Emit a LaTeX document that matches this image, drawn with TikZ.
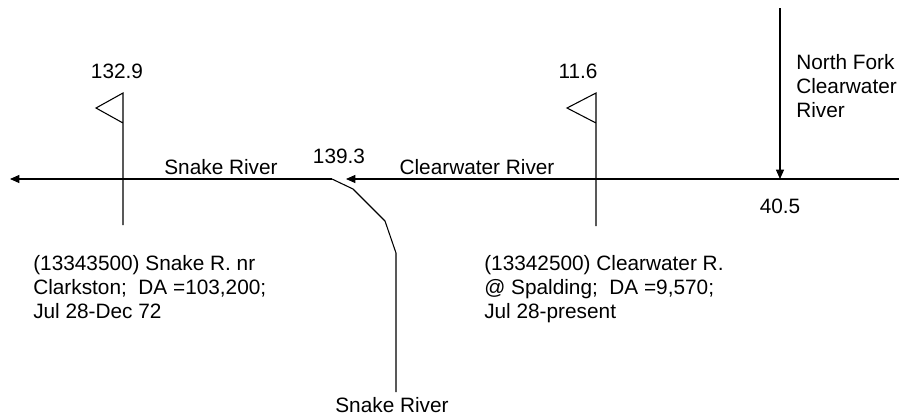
\documentclass[tikz,border=0pt]{standalone}
\usepackage{fontspec}
\setmainfont{Liberation Sans}
\usetikzlibrary{arrows.meta,positioning}
\definecolor{ink}{HTML}{000000}

\begin{document}
\begin{tikzpicture}[
  x=0.75pt, y=-0.75pt,
  >={Triangle[length=7pt,width=6pt]},
  river/.style={draw=ink, line width=0.8pt},
  flow/.style={->, draw=ink, line width=0.8pt},
  lbl/.style={inner sep=0pt, anchor=base, font=\fontsize{15.6}{18}\selectfont},
  note/.style={inner sep=0pt, anchor=base west, align=left, font=\fontsize{15.6}{18}\selectfont},
]
\useasboundingbox (0,0) rectangle (899,419);

% river points
\coordinate (cwin) at (899,179);
\coordinate (conf) at (346,179);
\coordinate (junc) at (332,179);
\coordinate (snkout) at (10,179);
\coordinate (snkin) at (396,392);
\coordinate (nfin) at (780,8);
\coordinate (nfout) at (780,179);

% gages
\coordinate (g1top) at (123,93);
\coordinate (g1tip) at (96,108);
\coordinate (g1mid) at (123,123);
\coordinate (g1bot) at (123,225);
\coordinate (g2top) at (596,93);
\coordinate (g2tip) at (567,108);
\coordinate (g2mid) at (596,123);
\coordinate (g2bot) at (596,226);

\draw[flow] (cwin) -- (conf);
\draw[flow] (junc) -- (snkout);
\draw[river] (snkin) -- (396,253) -- (385,221) -- (353,189) -- (junc);
\draw[flow] (nfin) -- (nfout);

\draw[river] (g1bot) -- (g1top) -- (g1tip) -- (g1mid);
\draw[river] (g2bot) -- (g2top) -- (g2tip) -- (g2mid);

\node[lbl] (rm1) at (117,78) {132.9};
\node[lbl] (rm2) at (578,78) {11.6};
\node[lbl] (rm3) at (339,163) {139.3};
\node[lbl] (rm4) at (780,213) {40.5};

\node[lbl] (snk) at (221,174) {Snake River};
\node[lbl] (cw) at (477,174) {Clearwater River};
\node[lbl] (snkb) at (392,412) {Snake River};
\node[note] (nf) at (796,117) {North Fork\\Clearwater\\River};

% base of a multi-line node is its last line
\node[note] (gage1) at (33,318) {(13343500) Snake R. nr\\Clarkston;\ \ DA =103,200;\\Jul 28-Dec 72};
\node[note] (gage2) at (484,318) {(13342500) Clearwater R.\\@ Spalding;\ \ DA =9,570;\\Jul 28-present};

\end{tikzpicture}
\end{document}
